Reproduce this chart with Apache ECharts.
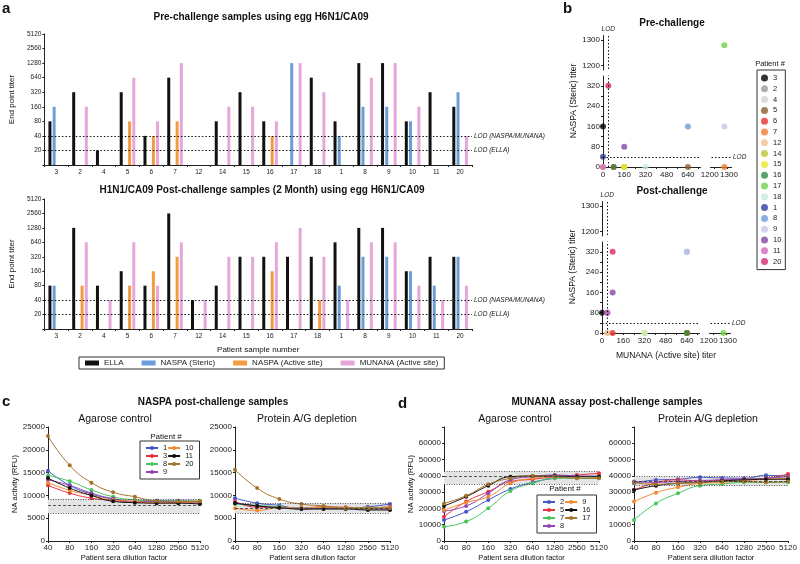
<!DOCTYPE html>
<html>
<head>
<meta charset="utf-8">
<script src="https://cdn.jsdelivr.net/npm/echarts@6.0.0/dist/echarts.min.js"></script>
<style>
html, body { margin: 0; padding: 0; background: #fff; }
.layer { position: absolute; left: 0; top: 0; width: 800px; height: 564px; }
</style>
</head>
<body>
<div id="pa" class="layer"></div>
<div id="pb" class="layer"></div>
<div id="pc" class="layer"></div>
<div id="pd" class="layer"></div>
<script>
var FONT = '"Liberation Sans", Arial, sans-serif';

// ---- panel a: end point titers per patient
var patients = ['3', '2', '4', '5', '6', '7', '12', '14', '15', '16', '17', '18', '1', '8', '9', '10', '11', '20'];
var barNames = ['ELLA', 'NASPA (Steric)', 'NASPA (Active site)', 'MUNANA (Active site)'];
var barColors = ['#111111', '#6c9dd8', '#f29c3f', '#e5a7da'];
var titerLabels = [20, 40, 80, 160, 320, 640, 1280, 2560, 5120];
var lodNaspa = 40, lodElla = 20;

var preElla    = [80, 320, 20, 320, 40, 640, null, 80, 320, 80, null, 640, 80, 1280, 1280, 80, 320, 160];
var preSteric  = [160, null, null, null, null, null, null, null, null, null, 1280, null, 40, 160, 160, 80, null, 320];
var preActive  = [null, null, null, 80, 40, 80, null, null, null, 40, null, null, null, null, null, null, null, null];
var preMunana  = [null, 160, null, 640, 80, 1280, null, 160, 160, 80, 1280, 320, null, 640, 1280, 160, null, 40];

var postElla   = [80, 1280, 80, 160, 80, 2560, 40, 80, 320, 320, 320, 320, 640, 1280, 1280, 160, 320, 320];
var postSteric = [80, null, null, null, null, null, null, null, null, null, null, null, 80, 320, 320, 160, 80, 320];
var postActive = [null, 80, null, 80, 160, 320, null, null, null, 160, null, 40, null, null, null, null, null, null];
var postMunana = [null, 640, 40, 640, 80, 640, 40, 320, 320, 640, 1280, 320, 40, 640, 640, 80, 40, 80];

// ---- panel b: patient colours (same order as patients)
var patientColors = ['#000000', '#9b9b9b', '#d4d4d4', '#8c5f2a', '#e8302e', '#f07b2b', '#f2c08c', '#b9c52f',
    '#e9e92f', '#2f8c45', '#6fd24a', '#c6ecd9', '#2f3fa3', '#6d9ad9', '#c9c5ec', '#8646a8', '#d467bd', '#d8276b'];

// ---- panels c, d: NA activity vs dilution
var dilutions = ['40', '80', '160', '320', '640', '1280', '2560', '5120'];
var naspaPatients = ['1', '3', '8', '9', '10', '11', '20'];
var naspaColors = ['#4558c8', '#e8333b', '#46c65c', '#9246b6', '#f38a30', '#111111', '#a2742c'];
var naspaAgarose = [
    [15400, 12200, 10300, 9200, 8600, 8800, 8800, 8600],
    [12200, 10500, 9400, 8900, 8500, 8600, 8400, 8400],
    [14400, 13100, 11200, 9700, 9000, 8800, 8700, 8800],
    [13400, 12200, 10500, 9300, 8700, 8700, 8400, 8400],
    [12800, 11100, 10000, 9000, 8700, 8300, 8400, 8600],
    [13800, 11600, 10000, 8700, 8400, 8300, 8300, 8100],
    [23000, 16600, 12800, 10700, 9700, 8800, 8700, 8700]
];
var naspaProteinAG = [
    [9400, 8300, 7800, 7000, 7200, 7200, 7500, 8100],
    [8700, 7400, 7400, 7200, 7500, 7400, 7300, 7500],
    [8100, 7800, 7500, 7200, 7300, 7300, 7300, 7300],
    [8400, 7700, 7300, 7200, 7200, 7200, 7000, 7000],
    [7200, 6700, 7300, 7200, 7400, 7200, 7200, 7300],
    [8300, 7700, 7300, 7000, 7000, 7000, 6800, 6800],
    [15600, 11600, 9200, 8100, 7700, 7200, 7200, 7200]
];
var munanaPatients = ['2', '5', '7', '8', '9', '16', '17'];
var munanaColors = ['#4558c8', '#e8333b', '#46c65c', '#9246b6', '#f38a30', '#111111', '#a2742c'];
var munanaAgarose = [
    [12900, 18000, 25200, 31900, 36000, 38500, 39500, 39900],
    [14900, 24200, 30300, 36500, 37900, 39500, 40500, 41600],
    [8800, 11900, 20100, 30700, 35400, 38500, 38500, 38500],
    [18400, 21500, 29300, 37500, 39500, 40500, 40000, 39500],
    [19000, 23600, 27200, 35400, 38500, 39500, 39500, 39100],
    [21500, 27200, 34000, 39500, 39900, 39900, 39500, 39500],
    [23100, 27800, 34800, 38500, 39900, 39500, 38500, 38500]
];
var munanaProteinAG = [
    [35400, 37500, 37900, 39100, 38700, 38500, 40300, 39900],
    [31300, 35800, 37500, 36900, 37500, 37900, 38500, 41200],
    [12900, 23100, 29300, 34000, 35000, 36000, 36000, 36000],
    [36500, 36000, 36500, 37100, 37500, 37900, 38500, 39500],
    [24200, 29700, 33000, 35400, 36000, 37100, 37900, 38500],
    [31300, 34000, 35400, 36000, 36900, 37500, 37900, 37900],
    [35800, 34800, 35400, 36000, 36500, 36500, 36000, 36500]
];
// background band: low, mean, high
var naspaAgBand = [6100, 7800, 9250];
var naspaPagBand = [6100, 7100, 8300];
var munanaAgBand = [35000, 39500, 42600];
var munanaPagBand = [34000, 36800, 39600];

function txt(x, y, s, font, align) {
    return {
        type: 'text', x: x, y: y, silent: true,
        style: { text: s, font: font, fill: '#111', textAlign: align || 'center', textVerticalAlign: 'middle',
                 align: align || 'center', verticalAlign: 'middle' }
    };
}
var axisCol = '#222';

// ================= panel a =================
function lg(v) { return v == null ? '-' : Math.log2(v / 10); }

function barSeries(gi, sets) {
    return sets.map(function (vals, k) {
        var s = {
            name: barNames[k], type: 'bar', xAxisIndex: gi, yAxisIndex: gi,
            barWidth: 3, barGap: '40%', itemStyle: { color: barColors[k] },
            data: vals.map(lg)
        };
        if (k === 0) {
            s.markLine = {
                silent: true, symbol: 'none', animation: false,
                lineStyle: { type: [1.5, 2], color: '#111', width: 1 },
                label: { position: 'end', distance: 2, fontSize: 6.5, fontStyle: 'italic', color: '#222' },
                data: [
                    { yAxis: lg(lodNaspa), label: { formatter: 'LOD (NASPA/MUNANA)' } },
                    { yAxis: lg(lodElla), label: { formatter: 'LOD (ELLA)' } }
                ]
            };
        }
        return s;
    });
}

function barY(gi) {
    return {
        type: 'value', gridIndex: gi, min: 0, max: 9, interval: 1,
        name: 'End point titer', nameLocation: 'middle', nameGap: 24,
        nameTextStyle: { fontSize: 8, color: '#111', fontFamily: FONT },
        axisLine: { show: true, lineStyle: { color: axisCol } },
        axisTick: { show: true, length: 2, lineStyle: { color: axisCol } },
        splitLine: { show: false },
        axisLabel: {
            fontSize: 6.5, color: '#222', margin: 3, fontFamily: FONT,
            formatter: function (v) { return v === 0 ? '' : String(titerLabels[v - 1]); }
        }
    };
}
function barX(gi, withName) {
    var ax = {
        type: 'category', gridIndex: gi, data: patients,
        axisLine: { lineStyle: { color: axisCol } },
        axisTick: { show: true, length: 2, lineStyle: { color: axisCol } },
        axisLabel: { fontSize: 6.5, color: '#222', margin: 4, fontFamily: FONT }
    };
    if (withName) {
        ax.name = 'Patient sample number';
        ax.nameLocation = 'middle';
        ax.nameGap = 17;
        ax.nameTextStyle = { fontSize: 8, color: '#111', fontFamily: FONT };
    }
    return ax;
}

var chartA = echarts.init(document.getElementById('pa'));
chartA.setOption({
    animation: false,
    backgroundColor: '#fff',
    textStyle: { fontFamily: FONT },
    grid: [
        { left: 43, top: 34, width: 429, height: 131 },
        { left: 43, top: 199, width: 429, height: 130 }
    ],
    xAxis: [barX(0, false), barX(1, true)],
    yAxis: [barY(0), barY(1)],
    legend: {
        data: barNames, left: 79, top: 357, icon: 'rect', itemWidth: 14, itemHeight: 5, itemGap: 18,
        borderColor: '#333', borderWidth: 1, padding: [2, 6, 2, 6],
        textStyle: { fontSize: 8, color: '#222', fontFamily: FONT }
    },
    graphic: [
        txt(2, 9, 'a', 'bold 15px ' + FONT, 'left'),
        txt(261, 17, 'Pre-challenge samples using egg H6N1/CA09', 'bold 10px ' + FONT),
        txt(262, 190, 'H1N1/CA09 Post-challenge samples (2 Month) using egg H6N1/CA09', 'bold 10px ' + FONT)
    ],
    series: barSeries(0, [preElla, preSteric, preActive, preMunana])
        .concat(barSeries(1, [postElla, postSteric, postActive, postMunana]))
});

// ================= panel b =================
function plain(v) { return String(v); }
function breakX(gi, withName) {
    var ax = {
        type: 'value', gridIndex: gi, min: 0, max: 1330,
        breaks: [{ start: 730, end: 1170, gap: 75 }],
        breakArea: { show: true, zigzagAmplitude: 0, itemStyle: { color: '#fff', borderColor: '#fff', borderWidth: 0, opacity: 1 } },
        axisLine: { show: true, onZero: false, lineStyle: { color: axisCol } },
        axisTick: { show: true, length: 2, customValues: [0, 80, 160, 240, 320, 400, 480, 560, 640, 720, 1200, 1300] },
        axisLabel: {
            fontSize: 8, color: '#222', margin: 4, fontFamily: FONT,
            hideOverlap: false, showMaxLabel: true, showMinLabel: true,
            customValues: [0, 160, 320, 480, 640, 1200, 1300],
            formatter: function (v) {
                if (v === 1200) return '{l|1200}';
                if (v === 1300) return '{r|1300}';
                return String(v);
            },
            rich: {
                l: { fontSize: 8, fontFamily: FONT, color: '#222', padding: [0, 8, 0, 0] },
                r: { fontSize: 8, fontFamily: FONT, color: '#222', padding: [0, 0, 0, 4] }
            }
        },
        splitLine: { show: false }
    };
    if (withName) {
        ax.name = 'MUNANA (Active site) titer';
        ax.nameLocation = 'middle';
        ax.nameGap = 18;
        ax.nameTextStyle = { fontSize: 8.5, color: '#111', fontFamily: FONT };
    }
    return ax;
}
function breakY(gi) {
    return {
        type: 'value', gridIndex: gi, min: 0, max: 1320,
        breaks: [{ start: 360, end: 1180, gap: 20 }],
        breakArea: { show: true, zigzagAmplitude: 0, itemStyle: { color: '#fff', borderColor: '#fff', borderWidth: 0, opacity: 1 } },
        name: 'NASPA (Steric) titer', nameLocation: 'middle', nameGap: 24,
        nameTextStyle: { fontSize: 8.5, color: '#111', fontFamily: FONT },
        axisLine: { show: true, onZero: false, lineStyle: { color: axisCol } },
        axisTick: { show: true, length: 2, customValues: [0, 40, 80, 120, 160, 200, 240, 280, 320, 1200, 1300] },
        axisLabel: { fontSize: 8, color: '#222', margin: 3, fontFamily: FONT, formatter: plain,
                     showMaxLabel: true, customValues: [0, 80, 160, 240, 320, 1200, 1300] },
        splitLine: { show: false }
    };
}
function scatterSeries(gi, munana, steric) {
    return patients.map(function (p, i) {
        var s = {
            name: p, type: 'scatter', xAxisIndex: gi, yAxisIndex: gi, symbolSize: 6,
            itemStyle: { color: patientColors[i] },
            data: [[munana[i] == null ? 0 : munana[i], steric[i] == null ? 0 : steric[i]]]
        };
        if (i === 0) {
            s.markLine = {
                silent: true, symbol: 'none', animation: false,
                lineStyle: { type: [1.5, 2], color: '#111', width: 1 },
                label: { formatter: 'LOD', position: 'end', distance: 2, fontSize: 6.5, fontStyle: 'italic', color: '#222' },
                data: [{ xAxis: lodNaspa }, { yAxis: lodNaspa }]
            };
        }
        return s;
    });
}
var chartB = echarts.init(document.getElementById('pb'));
chartB.setOption({
    animation: false,
    textStyle: { fontFamily: FONT },
    grid: [
        { left: 603, top: 35, width: 128, height: 132 },
        { left: 602, top: 201, width: 128, height: 132 }
    ],
    xAxis: [breakX(0, false), breakX(1, true)],
    yAxis: [breakY(0), breakY(1)],
    legend: {
        orient: 'vertical', left: 757, top: 70, data: patients, icon: 'circle',
        itemWidth: 7, itemHeight: 7, itemGap: 2.8, padding: [4, 4, 4, 4],
        borderColor: '#333', borderWidth: 1,
        textStyle: { fontSize: 7.5, color: '#222', fontFamily: FONT }
    },
    graphic: [
        txt(563, 9, 'b', 'bold 15px ' + FONT, 'left'),
        txt(672, 23, 'Pre-challenge', 'bold 10px ' + FONT),
        txt(672, 191, 'Post-challenge', 'bold 10px ' + FONT),
        txt(770, 64, 'Patient #', '7.5px ' + FONT)
    ],
    series: scatterSeries(0, preMunana, preSteric).concat(scatterSeries(1, postMunana, postSteric))
});

// ================= panels c, d =================
function lineX(gi) {
    return {
        type: 'category', gridIndex: gi, data: dilutions, boundaryGap: false,
        name: 'Patient sera dilution factor', nameLocation: 'middle', nameGap: 13,
        nameTextStyle: { fontSize: 7.5, color: '#111', fontFamily: FONT },
        axisLine: { lineStyle: { color: axisCol } },
        axisTick: { show: true, length: 2, lineStyle: { color: axisCol } },
        axisLabel: { fontSize: 8, color: '#222', margin: 3, fontFamily: FONT, interval: 0 }
    };
}
function lineY(gi, max, step, withName, nameGap) {
    var ax = {
        type: 'value', gridIndex: gi, min: 0, max: max, interval: step,
        axisLine: { show: true, lineStyle: { color: axisCol } },
        axisTick: { show: true, length: 2, lineStyle: { color: axisCol } },
        splitLine: { show: false },
        axisLabel: {
            fontSize: 8, color: '#222', margin: 3, fontFamily: FONT,
            formatter: function (v) { return v > 60000 ? '' : String(v); }
        }
    };
    if (withName) {
        ax.name = 'NA activity (RFU)';
        ax.nameLocation = 'middle';
        ax.nameGap = nameGap;
        ax.nameTextStyle = { fontSize: 7.5, color: '#111', fontFamily: FONT };
    }
    return ax;
}
function lineSeries(gi, names, colors, rows, band) {
    return names.map(function (p, i) {
        var s = {
            name: p, type: 'line', xAxisIndex: gi, yAxisIndex: gi, smooth: 0.5,
            symbol: 'circle', symbolSize: 4, showSymbol: true,
            lineStyle: { width: 1, color: colors[i] }, itemStyle: { color: colors[i] },
            data: rows[i]
        };
        if (i === 0) {
            s.markArea = {
                silent: true, itemStyle: { color: '#e4e4e4' },
                data: [[{ yAxis: band[0] }, { yAxis: band[2] }]]
            };
            s.markLine = {
                silent: true, symbol: 'none', animation: false, label: { show: false },
                lineStyle: { color: '#333', width: 0.8, type: [1, 1.5] },
                data: [
                    { yAxis: band[0] },
                    { yAxis: band[1], lineStyle: { type: [3, 2] } },
                    { yAxis: band[2] }
                ]
            };
        }
        return s;
    });
}
function linePanel(id, cfg) {
    var ch = echarts.init(document.getElementById(id));
    ch.setOption({
        animation: false,
        textStyle: { fontFamily: FONT },
        grid: [
            { left: cfg.gl[0], top: 427, width: cfg.gl[1], height: 114 },
            { left: cfg.gr[0], top: 427, width: cfg.gr[1], height: 114 }
        ],
        xAxis: [lineX(0), lineX(1)],
        yAxis: [lineY(0, cfg.max, cfg.step, true, cfg.nameGap), lineY(1, cfg.max, cfg.step, false)],
        legend: {
            orient: 'vertical', left: cfg.leg[0], top: cfg.leg[1], height: 36, data: cfg.names,
            itemWidth: 12, itemHeight: 5, itemGap: 0, padding: [3, 6, 3, 5],
            borderColor: '#333', borderWidth: 1,
            textStyle: { fontSize: 7.5, color: '#222', fontFamily: FONT }
        },
        graphic: cfg.texts,
        series: lineSeries(0, cfg.names, cfg.colors, cfg.left, cfg.bandL)
            .concat(lineSeries(1, cfg.names, cfg.colors, cfg.right, cfg.bandR))
    });
}

linePanel('pc', {
    gl: [48, 152], gr: [235, 155], max: 25000, step: 5000, nameGap: 29,
    leg: [140, 441], names: naspaPatients, colors: naspaColors,
    left: naspaAgarose, right: naspaProteinAG, bandL: naspaAgBand, bandR: naspaPagBand,
    texts: [
        txt(2, 402, 'c', 'bold 15px ' + FONT, 'left'),
        txt(213, 402, 'NASPA post-challenge samples', 'bold 10px ' + FONT),
        txt(115, 419, 'Agarose control', '10.5px ' + FONT),
        txt(307, 419, 'Protein A/G depletion', '10.5px ' + FONT),
        txt(166, 437, 'Patient #', '8px ' + FONT)
    ]
});

linePanel('pd', {
    gl: [444, 155], gr: [634, 154], max: 70000, step: 10000, nameGap: 27,
    leg: [537, 495], names: munanaPatients, colors: munanaColors,
    left: munanaAgarose, right: munanaProteinAG, bandL: munanaAgBand, bandR: munanaPagBand,
    texts: [
        txt(398, 404, 'd', 'bold 15px ' + FONT, 'left'),
        txt(607, 402, 'MUNANA assay post-challenge samples', 'bold 10px ' + FONT),
        txt(515, 419, 'Agarose control', '10.5px ' + FONT),
        txt(708, 419, 'Protein A/G depletion', '10.5px ' + FONT),
        txt(565, 489, 'Patient #', '8px ' + FONT)
    ]
});
</script>
</body>
</html>
